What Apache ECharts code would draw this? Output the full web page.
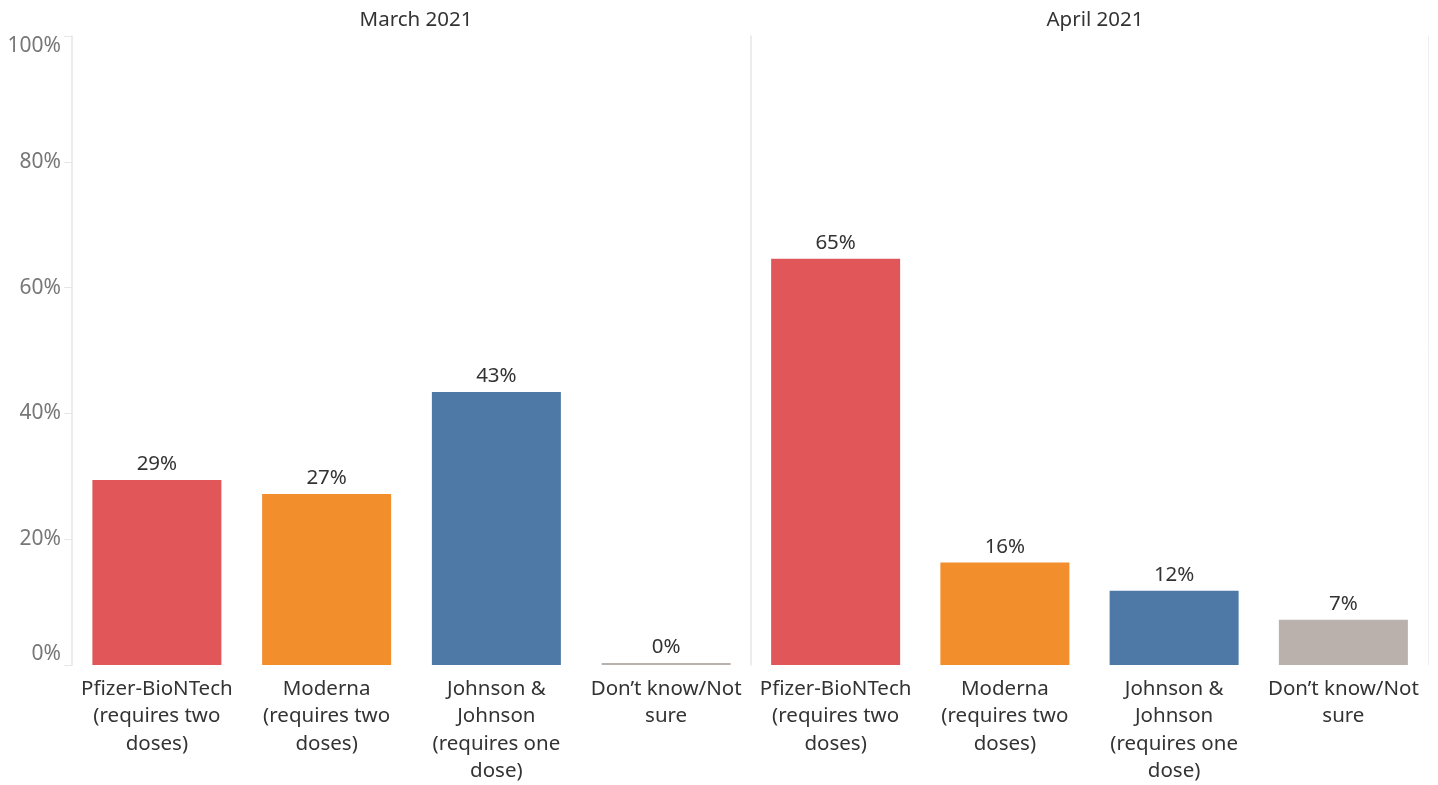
<!DOCTYPE html>
<html>
<head>
<meta charset="utf-8">
<script src="https://cdn.jsdelivr.net/npm/echarts@6/dist/echarts.min.js"></script>
<style>
html,body{margin:0;padding:0;background:#fff;}
#chart{width:1438px;height:785px;}
</style>
</head>
<body>
<div id="chart"></div>
<script>
const panels = ['March 2021', 'April 2021'];
const categories = [
  'Pfizer-BioNTech\n(requires two\ndoses)',
  'Moderna\n(requires two\ndoses)',
  'Johnson &\nJohnson\n(requires one\ndose)',
  'Don\u2019t know/Not\nsure'
];
const marchValues = [29.4, 27.2, 43.4, 0];
const aprilValues = [64.6, 16.3, 11.8, 7.2];
const barColors = ['#e15759', '#f28e2b', '#4e79a7', '#bab0ac'];
const yTicks = [0, 20, 40, 60, 80, 100];

const FONT = 'Noto Sans';
const chart = echarts.init(document.getElementById('chart'));

function mkData(vals) {
  return vals.map((v, i) => ({ value: v, itemStyle: { color: barColors[i] } }));
}

const grids = [
  { left: 72, right: 687, top: 36, bottom: 114.5 },
  { left: 751, right: 10, top: 36, bottom: 114.5 }
];

const xAxes = grids.map((g, i) => ({
  type: 'category', gridIndex: i, data: categories,
  axisLine: { show: false }, axisTick: { show: false },
  axisLabel: { interval: 0, color: '#333', fontFamily: FONT, fontSize: 20.5, lineHeight: 27.5, margin: 10 }
}));

const yAxes = [
  {
    type: 'value', gridIndex: 0, min: 0, max: 100, interval: 20,
    axisLine: { show: true, lineStyle: { color: '#e6e6e6', width: 1.5 } },
    axisTick: { show: true, length: 8, lineStyle: { color: '#e6e6e6' } },
    splitLine: { show: false },
    axisLabel: {
      color: '#777', fontFamily: FONT, fontSize: 21, margin: 11,
      formatter: v => yTicks.includes(v) ? v + '%' : '',
      verticalAlignMinLabel: 'bottom', verticalAlignMaxLabel: 'top'
    }
  },
  {
    type: 'value', gridIndex: 1, min: 0, max: 100, interval: 20,
    axisLine: { show: true, lineStyle: { color: '#e6e6e6', width: 1.5 } },
    axisTick: { show: false }, axisLabel: { show: false }, splitLine: { show: false }
  },
  {
    type: 'value', gridIndex: 1, min: 0, max: 100, interval: 20, position: 'right',
    axisLine: { show: true, lineStyle: { color: '#eeeeee', width: 1 } },
    axisTick: { show: false }, axisLabel: { show: false }, splitLine: { show: false }
  }
];

const labelCfg = {
  show: true, position: 'top', distance: 5, color: '#333', fontFamily: FONT, fontSize: 20.5,
  formatter: p => Math.round(p.value) + '%'
};

chart.setOption({
  animation: false,
  textStyle: { fontFamily: FONT },
  title: [
    { text: panels[0], left: 411, top: 5, textAlign: 'center', textStyle: { fontFamily: FONT, fontSize: 20.5, fontWeight: 'normal', color: '#333' } },
    { text: panels[1], left: 1090, top: 5, textAlign: 'center', textStyle: { fontFamily: FONT, fontSize: 20.5, fontWeight: 'normal', color: '#333' } }
  ],
  grid: grids,
  xAxis: xAxes,
  yAxis: yAxes,
  series: [
    { type: 'bar', xAxisIndex: 0, yAxisIndex: 0, data: mkData(marchValues), barWidth: 129, barMinHeight: 2, label: labelCfg },
    { type: 'bar', xAxisIndex: 1, yAxisIndex: 1, data: mkData(aprilValues), barWidth: 129, barMinHeight: 2, label: labelCfg }
  ]
});
</script>
</body>
</html>
